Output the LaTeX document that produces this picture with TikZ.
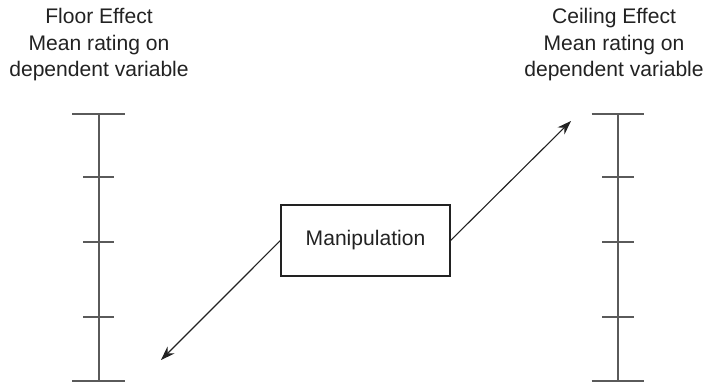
\documentclass[tikz,border=0pt]{standalone}
\usepackage{fontspec}
\setmainfont{Liberation Sans}
\usepackage{tikz}
\usetikzlibrary{arrows.meta}
\definecolor{scalegray}{HTML}{5A5A5A}
\definecolor{ink}{HTML}{222222}

\tikzset{
  heading/.style={align=center, anchor=north, inner sep=0pt, text=ink,
    font=\fontsize{15}{18.9}\selectfont},
  scaleline/.style={draw=scalegray, line width=1.3pt},
  manipbox/.style={draw=ink, line width=0.8pt, minimum width=4.225cm,
    minimum height=1.775cm, text=ink, font=\fontsize{15}{18}\selectfont},
  effectarrow/.style={draw=ink, line width=0.8pt, -{Stealth[length=10pt,width=7pt]}}
}

\begin{document}
\begin{tikzpicture}
  \useasboundingbox (0,0) rectangle (17.675,-9.625);
  % titoli
  \node[heading] (floor) at (2.475,-0.2) {Floor Effect\\Mean rating on\\dependent variable};
  \node[heading] (ceil) at (15.35,-0.2) {Ceiling Effect\\Mean rating on\\dependent variable};
  % scale
  \foreach \sx in {2.47,15.45} {
    \draw[scaleline] (\sx,-2.85) -- (\sx,-9.525);
    \draw[scaleline] (\sx-0.66,-2.85) -- (\sx+0.66,-2.85);
    \draw[scaleline] (\sx-0.66,-9.525) -- (\sx+0.66,-9.525);
    \foreach \ty in {-4.425,-6.05,-7.925}
      \draw[scaleline] (\sx-0.39,\ty) -- (\sx+0.39,\ty);
  }
  % manipolazione
  \node[manipbox] (manip) at (9.1375,-6.0125) {Manipulation};
  \coordinate (floortip) at (4.025,-9.0);
  \coordinate (ceiltip) at (14.275,-3.025);
  \draw[effectarrow] (manip.west) -- (floortip);
  \draw[effectarrow] (manip.east) -- (ceiltip);
\end{tikzpicture}
\end{document}
